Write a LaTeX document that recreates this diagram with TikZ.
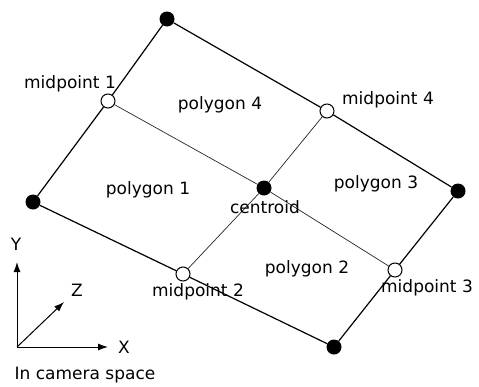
\documentclass[tikz,border=0pt]{standalone}
\usepackage{fontspec}
\setsansfont{DejaVu Sans}
\usepackage{tikz}
\usetikzlibrary{arrows.meta,positioning}

\begin{document}
\begin{tikzpicture}[
    x=1pt, y=-1pt,
    >={Latex[length=10pt, width=7pt]},
    font=\sffamily\fontsize{17}{20}\selectfont,
    corner/.style={
        circle, fill=black, inner sep=0pt,
        minimum size=15pt
    },
    midpt/.style={
        circle, draw, fill=white, inner sep=0pt,
        minimum size=14pt, line width=1pt
    },
    edge/.style={line width=1.2pt},
    split/.style={line width=0.7pt, black!85},
    txt/.style={inner sep=0pt}
]
    \useasboundingbox (0,0) rectangle (479,386);

    % Quad corners and centroid
    \node [corner] (top) at (167,19) {};
    \node [corner] (left) at (33,202) {};
    \node [corner] (right) at (458,191) {};
    \node [corner] (bottom) at (334,347) {};
    \node [corner] (cen) at (264,188) {};

    % Edge midpoints
    \node [midpt] (mp1) at (108,101) {};
    \node [midpt] (mp4) at (327,111) {};
    \node [midpt] (mp2) at (183,274) {};
    \node [midpt] (mp3) at (395,270) {};

    % Outline
    \draw [edge] (top) -- (mp4) -- (right) -- (mp3) -- (bottom) -- (mp2) -- (left) -- (mp1) -- (top);

    % Split into four polygons
    \draw [split] (mp1) -- (cen) -- (mp3);
    \draw [split] (mp4) -- (cen) -- (mp2);

    % Labels
    \node [txt] (lmp1) at (70,84) {midpoint 1};
    \node [txt] (lmp4) at (388,100) {midpoint 4};
    \node [txt] (lmp2) at (198,292) {midpoint 2};
    \node [txt] (lmp3) at (427,288) {midpoint 3};
    \node [txt] (lcen) at (265,207) {centroid};
    \node [txt] (poly4) at (220,105) {polygon 4};
    \node [txt] (poly1) at (148,190) {polygon 1};
    \node [txt] (poly3) at (376,184) {polygon 3};
    \node [txt] (poly2) at (307,269) {polygon 2};

    % Camera axes
    \coordinate (orig) at (17,347);
    \coordinate (xend) at (108,347);
    \coordinate (yend) at (17,262);
    \coordinate (zend) at (64,302);
    \draw [line width=1pt, ->] (orig) -- (xend);
    \draw [line width=1pt, ->] (orig) -- (yend);
    \draw [line width=1pt, ->] (orig) -- (zend);
    \node [txt] (xlab) at (124,347) {X};
    \node [txt] (ylab) at (16,244) {Y};
    \node [txt] (zlab) at (77,290) {Z};
    \node [txt] (cap) at (85,375) {In camera space};

\end{tikzpicture}
\end{document}
